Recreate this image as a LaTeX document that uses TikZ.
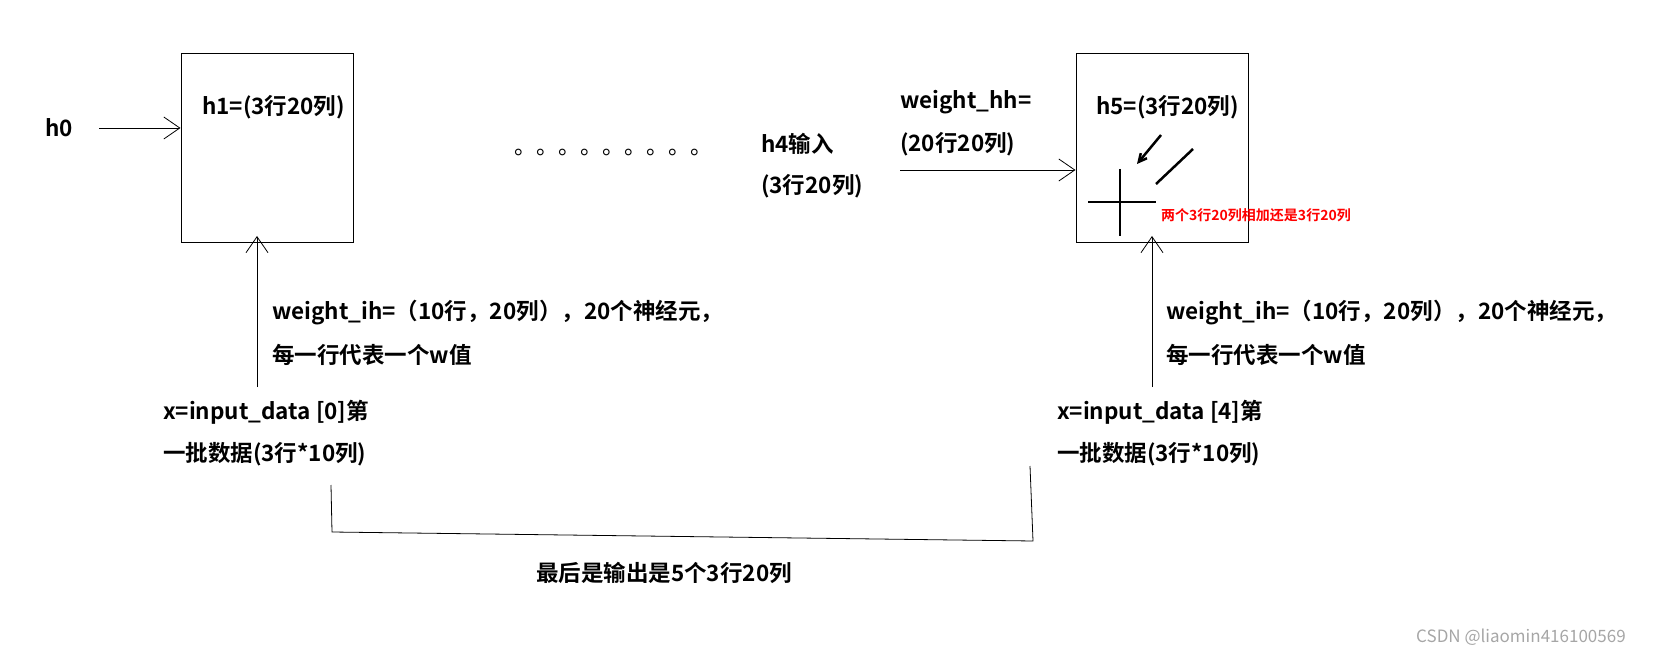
\documentclass[tikz,border=0pt]{standalone}
\usepackage{fontspec}
\setmainfont{Noto Sans CJK SC}[BoldFont={* Bold}]
\usetikzlibrary{arrows.meta}
\begin{document}
\begin{tikzpicture}[x=1pt,y=-1pt,
  lbl/.style={anchor=west,inner sep=0pt,font=\fontsize{22.5}{24}\selectfont\bfseries},
  cell/.style={draw,line width=1pt,minimum width=172pt,minimum height=189pt,inner sep=0pt},
  arr/.style={-{Straight Barb[length=16pt,width=22pt]},line width=0.8pt}]
\useasboundingbox (0,0) rectangle (1674,655);
\node[cell] (b1) at (267,148) {};
\node[cell] (b2) at (1162,148) {};
\node[lbl] (h1) at (202,107) {h1=(3行20列)};
\node[lbl] (h5) at (1096,107) {h5=(3行20列)};
\node[lbl] (h0) at (45,128) {h0};
\coordinate (h0s) at (99,128);
\draw[arr] (h0s) -- (b1.west|-h0s);
\node[anchor=west,inner sep=0pt,font=\fontsize{22}{22}\selectfont] (dots) at (514,152) {。。。。。。。。。};
\node[lbl] (h4a) at (761,144) {h4输入};
\node[lbl] (h4b) at (761,186) {(3行20列)};
\node[lbl] (whh1) at (900,102) {weight\_hh=};
\node[lbl] (whh2) at (900,144) {(20行20列)};
\coordinate (hhs) at (900,170);
\draw[arr] (hhs) -- (b2.west|-hhs);
% plus and slashes
\draw[line width=2.5pt] (1088,202) -- (1156,202);
\draw[line width=2.5pt] (1120,169) -- (1120,236);
\draw[line width=2.5pt,-{Straight Barb[length=8pt,width=8pt]}] (1161,135) -- (1137,164);
\draw[line width=2.5pt] (1193,149) -- (1156,184);
\node[anchor=west,inner sep=0pt,text=red,font=\fontsize{14}{16}\selectfont\bfseries] (red) at (1161,215) {两个3行20列相加还是3行20列};
% inputs
\node[lbl] (x1a) at (163,412) {x=input\_data [0]第};
\node[lbl] (x1b) at (163,454) {一批数据(3行*10列)};
\node[lbl] (x2a) at (1057,412) {x=input\_data [4]第};
\node[lbl] (x2b) at (1057,454) {一批数据(3行*10列)};
\node[lbl] (w1a) at (272,313) {weight\_ih=（10行，20列），20个神经元，};
\node[lbl] (w1b) at (272,355) {每一行代表一个w值};
\node[lbl] (w2a) at (1166,313) {weight\_ih=（10行，20列），20个神经元，};
\node[lbl] (w2b) at (1166,355) {每一行代表一个w值};
\coordinate (u1) at (257,387);
\coordinate (u2) at (1152,387);
\draw[arr] (u1) -- ([yshift=7pt]u1|-b1.south);
\draw[arr] (u2) -- ([yshift=7pt]u2|-b2.south);
% bracket
\coordinate (k1) at (331,485);
\coordinate (k2) at (1030,466);
\draw[line width=0.8pt] (k1) -- (332,532) -- (1033,541) -- (k2);
\node[lbl] (out) at (536,573) {最后是输出是5个3行20列};
\node[anchor=west,inner sep=0pt,text=black!35,font=\fontsize{17}{18}\selectfont] (wm) at (1416,637) {CSDN @liaomin416100569};
\end{tikzpicture}
\end{document}
